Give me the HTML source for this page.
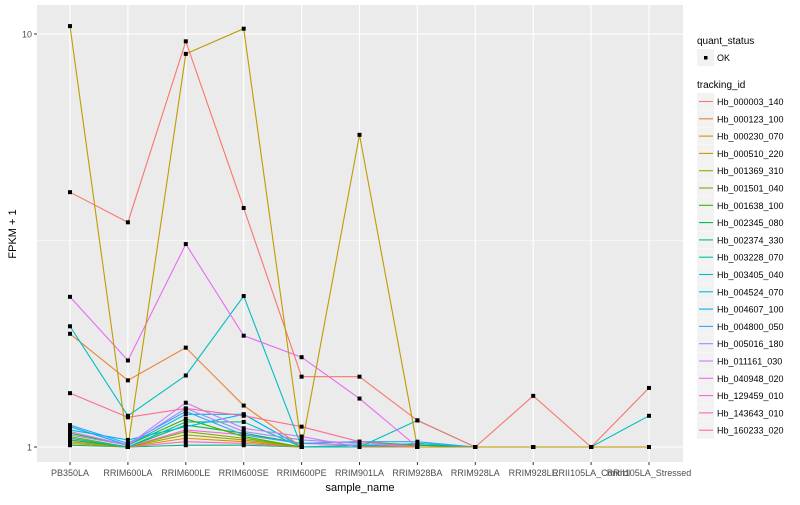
<!DOCTYPE html>
<html><head><meta charset="utf-8"><style>
body{margin:0;background:#fff;font-family:"Liberation Sans",sans-serif}
svg text{font-family:"Liberation Sans",sans-serif}
</style></head><body>
<svg id="chart" width="800" height="500" viewBox="0 0 800 500" xmlns="http://www.w3.org/2000/svg">
<rect x="0" y="0" width="800" height="500" fill="#fff"/>
<rect x="37" y="5" width="646" height="457" fill="#ebebeb"/>
<g id="grid"></g><g id="series"></g><g id="axes"></g><g id="legend"></g>
<text transform="translate(16,234) rotate(-90)" font-size="11" text-anchor="middle" fill="#000">FPKM + 1</text>
<text x="360" y="491" font-size="11" text-anchor="middle" fill="#000">sample_name</text>
</svg>
<script>
const categories=["PB350LA","RRIM600LA","RRIM600LE","RRIM600SE","RRIM600PE","RRIM901LA","RRIM928BA","RRIM928LA","RRIM928LE","RRII105LA_Control","RRII105LA_Stressed"];
const seriesNames=["Hb_000003_140","Hb_000123_100","Hb_000230_070","Hb_000510_220","Hb_001369_310","Hb_001501_040","Hb_001638_100","Hb_002345_080","Hb_002374_330","Hb_003228_070","Hb_003405_040","Hb_004524_070","Hb_004607_100","Hb_004800_050","Hb_005016_180","Hb_011161_030","Hb_040948_020","Hb_129459_010","Hb_143643_010","Hb_160233_020"];
const colors=["#F8766D","#EA8331","#D89000","#C09B00","#A3A500","#7CAE00","#39B600","#00BB4E","#00BF7D","#00C1A3","#00BFC4","#00BAE0","#00B0F6","#35A2FF","#9590FF","#C77CFF","#E76BF3","#FA62DB","#FF62BC","#FF6C91"];
const s00=[4.14,3.5,9.6,3.79,1.48,1.48,1.16,1.0,1.33,1.0,1.39];
const s01=[1.88,1.45,1.74,1.26,1.0,1.0,1.0,1.0,1.0,1.0,1.0];
const s02=[1.02,1.0,1.05,1.03,1.0,1.0,1.01,1.0,1.0,1.0,1.0];
const s03=[10.45,1.0,8.95,10.3,1.0,5.7,1.0,1.0,1.0,1.0,1.0];
const s04=[1.03,1.0,1.07,1.04,1.0,1.01,1.0,1.0,1.0,1.0,1.0];
const s05=[1.06,1.0,1.09,1.05,1.0,1.0,1.0,1.0,1.0,1.0,1.0];
const s06=[1.08,1.01,1.17,1.06,1.0,1.0,1.02,1.0,1.0,1.0,1.0];
const s07=[1.04,1.0,1.13,1.08,1.02,1.03,1.01,1.0,1.0,1.0,1.0];
const s08=[1.01,1.0,1.01,1.01,1.0,1.0,1.0,1.0,1.0,1.0,1.0];
const s09=[1.05,1.0,1.15,1.15,1.0,1.01,1.0,1.0,1.0,1.0,1.0];
const s10=[1.96,1.19,1.49,2.32,1.0,1.0,1.16,1.0,1.0,1.0,1.19];
const s11=[1.1,1.04,1.12,1.2,1.0,1.0,1.02,1.0,1.0,1.0,1.0];
const s12=[1.12,1.01,1.2,1.2,1.0,1.0,1.0,1.0,1.0,1.0,1.0];
const s13=[1.13,1.02,1.22,1.07,1.02,1.03,1.03,1.0,1.0,1.0,1.0];
const s14=[1.07,1.01,1.24,1.09,1.04,1.02,1.0,1.0,1.0,1.0,1.0];
const s15=[1.09,1.01,1.28,1.11,1.06,1.0,1.0,1.0,1.0,1.0,1.0];
const s16=[2.31,1.62,3.1,1.86,1.65,1.31,1.0,1.0,1.0,1.0,1.0];
const s17=[1.05,1.0,1.1,1.07,1.02,1.01,1.0,1.0,1.0,1.0,1.0];
const s18=[1.03,1.0,1.03,1.02,1.0,1.0,1.0,1.0,1.0,1.0,1.0];
const s19=[1.35,1.18,1.24,1.19,1.12,1.03,1.0,1.0,1.0,1.0,1.0];
const seriesValues=[s00,s01,s02,s03,s04,s05,s06,s07,s08,s09,s10,s11,s12,s13,s14,s15,s16,s17,s18,s19];
const yTicks=[1,10];
const yTickLabels=["1","10"];
const yMinor=[Math.sqrt(10)];

const NS="http://www.w3.org/2000/svg";
function mk(tag,attrs,parent){const e=document.createElementNS(NS,tag);for(const k in attrs)e.setAttribute(k,attrs[k]);parent.appendChild(e);return e;}
const X0=70,DX=57.9;
function xScale(i){return X0+i*DX;}
function yScale(v){return 447-413*Math.log10(v);}
const grid=document.getElementById('grid'),axes=document.getElementById('axes'),ser=document.getElementById('series'),leg=document.getElementById('legend');
yMinor.forEach(v=>{const l=mk('line',{x1:37,x2:683,y1:yScale(v),y2:yScale(v),stroke:'#fff','stroke-width':0.6},grid);

});
yTicks.forEach((v,i)=>{const y=yScale(v);
const l=mk('line',{x1:37,x2:683,y1:y,y2:y,stroke:'#fff','stroke-width':1.1},grid);


mk('line',{x1:34,x2:37,y1:y,y2:y,stroke:'#333','stroke-width':1},axes);
const t=mk('text',{x:32,y:y+3.5,'font-size':9,'text-anchor':'end',fill:'#4d4d4d'},axes);t.textContent=yTickLabels[i];

});
categories.forEach((c,i)=>{const x=xScale(i);
const l=mk('line',{x1:x,x2:x,y1:5,y2:462,stroke:'#fff','stroke-width':1.1},grid);


mk('line',{x1:x,x2:x,y1:462,y2:465,stroke:'#333','stroke-width':1},axes);
const t=mk('text',{x:x,y:476,'font-size':9,'text-anchor':'middle',fill:'#4d4d4d'},axes);t.textContent=c;

});
// draw small series first, big ones last
const order=[...seriesValues.keys()].sort((a,b)=>Math.max(...seriesValues[a])-Math.max(...seriesValues[b]));
order.forEach(si=>{const vals=seriesValues[si];
const pts=vals.map((v,i)=>xScale(i)+','+yScale(v)).join(' ');
const p=mk('polyline',{points:pts,fill:'none',stroke:colors[si],'stroke-width':1.1},ser);

});
order.forEach(si=>{seriesValues[si].forEach((v,i)=>{
const r=mk('rect',{x:xScale(i)-2,y:yScale(v)-2,width:4,height:4,fill:'#000'},ser);

});});
// legend
let t=mk('text',{x:697,y:44,'font-size':10,fill:'#000'},leg);t.textContent='quant_status';


mk('rect',{x:697,y:49,width:17,height:17,fill:'#f2f2f2'},leg);
mk('rect',{x:704,y:56,width:3.5,height:3.5,fill:'#000'},leg);
t=mk('text',{x:717,y:61,'font-size':9,fill:'#000'},leg);t.textContent='OK';


t=mk('text',{x:697,y:88,'font-size':10,fill:'#000'},leg);t.textContent='tracking_id';


seriesNames.forEach((n,i)=>{const y=93+i*17.3;
mk('rect',{x:697,y:y,width:17,height:17,fill:'#f2f2f2'},leg);
mk('line',{x1:699,x2:713,y1:y+8.5,y2:y+8.5,stroke:colors[i],'stroke-width':1.1},leg);
const tt=mk('text',{x:717,y:y+12,'font-size':9,fill:'#000'},leg);tt.textContent=n;

});
</script>
</body></html>
